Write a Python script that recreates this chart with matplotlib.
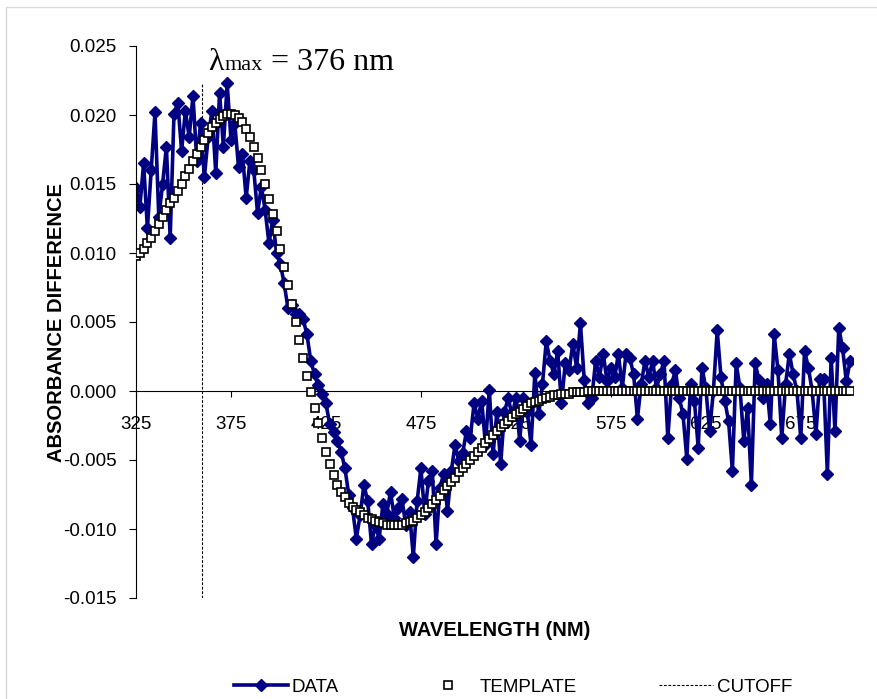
import numpy as np
import matplotlib
matplotlib.use("Agg")
import matplotlib.pyplot as plt
from matplotlib.lines import Line2D
from matplotlib.patches import Rectangle

# Wavelength grid (nm), 2 nm steps
wavelength = np.arange(325, 702, 2)

# Measured absorbance difference
absorbance_data = [
    0.0147, 0.0133, 0.0165, 0.0118, 0.0160, 0.0202, 0.0126, 0.0150, 0.0177, 0.0111,
    0.0201, 0.0209, 0.0174, 0.0203, 0.0184, 0.0214, 0.0167, 0.0194, 0.0155, 0.0184,
    0.0203, 0.0158, 0.0216, 0.0177, 0.0223, 0.0182, 0.0194, 0.0162, 0.0172, 0.0140,
    0.0167, 0.0160, 0.0129, 0.0148, 0.0131, 0.0107, 0.0124, 0.0100, 0.0092, 0.0078,
    0.0060, 0.0062, 0.0056, 0.0056, 0.0052, 0.0041, 0.0022, 0.0012, 0.0004, -0.0002,
    -0.0009, -0.0024, -0.0030, -0.0036, -0.0044, -0.0056, -0.0075, -0.0085, -0.0107, -0.0090,
    -0.0068, -0.0080, -0.0111, -0.0097, -0.0107, -0.0082, -0.0089, -0.0073, -0.0092, -0.0085,
    -0.0078, -0.0097, -0.0088, -0.0120, -0.0080, -0.0056, -0.0089, -0.0065, -0.0058, -0.0111,
    -0.0070, -0.0060, -0.0087, -0.0058, -0.0039, -0.0051, -0.0045, -0.0029, -0.0034, -0.0009,
    -0.0020, -0.0007, -0.0039, 0.0001, -0.0046, -0.0015, -0.0053, -0.0015, -0.0005, -0.0018,
    -0.0005, -0.0036, -0.0005, -0.0015, -0.0039, 0.0013, -0.0017, 0.0005, 0.0036, 0.0022,
    0.0012, 0.0029, -0.0009, 0.0020, 0.0015, 0.0034, 0.0017, 0.0049, 0.0008, -0.0009,
    -0.0005, 0.0022, 0.0010, 0.0027, 0.0007, 0.0017, 0.0010, 0.0027, 0.0002, 0.0027,
    0.0024, 0.0012, -0.0020, 0.0005, 0.0022, 0.0010, 0.0022, 0.0002, 0.0012, 0.0022,
    -0.0034, 0.0005, 0.0015, -0.0005, -0.0017, -0.0049, 0.0005, -0.0007, -0.0041, 0.0017,
    0.0002, -0.0029, 0.0000, 0.0044, 0.0010, -0.0007, -0.0022, -0.0058, 0.0020, 0.0002,
    -0.0036, -0.0012, -0.0068, 0.0020, 0.0008, -0.0005, 0.0005, -0.0024, 0.0041, 0.0015,
    -0.0034, 0.0005, 0.0027, 0.0012, 0.0000, -0.0034, 0.0029, 0.0017, 0.0000, -0.0031,
    0.0009, 0.0009, -0.0060, 0.0024, -0.0029, 0.0046, 0.0031, 0.0007, 0.0022,
]

# Fitted template spectrum
template = [
    0.0098, 0.0100, 0.0103, 0.0107, 0.0111, 0.0116, 0.0121, 0.0126, 0.0131, 0.0136,
    0.0140, 0.0145, 0.0150, 0.0156, 0.0161, 0.0167, 0.0172, 0.0177, 0.0182, 0.0187,
    0.0191, 0.0194, 0.0197, 0.0199, 0.0201, 0.0201, 0.0200, 0.0198, 0.0195, 0.0190,
    0.0184, 0.0177, 0.0169, 0.0160, 0.0150, 0.0139, 0.0128, 0.0116, 0.0103, 0.0090,
    0.0077, 0.0063, 0.0050, 0.0037, 0.0024, 0.0011, -0.0001, -0.0012, -0.0023, -0.0034,
    -0.0044, -0.0053, -0.0061, -0.0068, -0.0073, -0.0077, -0.0081, -0.0084, -0.0086, -0.0088,
    -0.0090, -0.0092, -0.0093, -0.0094, -0.0095, -0.0096, -0.0097, -0.0097, -0.0097, -0.0097,
    -0.0097, -0.0096, -0.0095, -0.0094, -0.0092, -0.0090, -0.0088, -0.0085, -0.0082, -0.0079,
    -0.0076, -0.0072, -0.0069, -0.0066, -0.0063, -0.0059, -0.0056, -0.0053, -0.0050, -0.0047,
    -0.0044, -0.0041, -0.0038, -0.0035, -0.0032, -0.0029, -0.0026, -0.0024, -0.0022, -0.0019,
    -0.0017, -0.0015, -0.0013, -0.0011, -0.0009, -0.0008, -0.0007, -0.0006, -0.0005, -0.0004,
    -0.0003, -0.0003, -0.0002, -0.0002, -0.0002, -0.0001, -0.0001, -0.0001, -0.0001, 0.0,
    0.0, 0.0, 0.0, 0.0, 0.0, 0.0, 0.0, 0.0, 0.0, 0.0,
    0.0, 0.0, 0.0, 0.0, 0.0, 0.0, 0.0, 0.0, 0.0, 0.0,
    0.0, 0.0, 0.0, 0.0, 0.0, 0.0, 0.0, 0.0, 0.0, 0.0,
    0.0, 0.0, 0.0, 0.0, 0.0, 0.0, 0.0, 0.0, 0.0, 0.0,
    0.0, 0.0, 0.0, 0.0, 0.0, 0.0, 0.0, 0.0, 0.0, 0.0,
    0.0, 0.0, 0.0, 0.0, 0.0, 0.0, 0.0, 0.0, 0.0, 0.0,
    0.0, 0.0, 0.0, 0.0, 0.0, 0.0, 0.0, 0.0, 0.0,
]

cutoff_nm = 360
lambda_max_nm = 376
x_ticks = [325, 375, 425, 475, 525, 575, 625, 675]
y_ticks = [-0.015, -0.010, -0.005, 0.000, 0.005, 0.010, 0.015, 0.020, 0.025]

plt.rcParams['font.family'] = ['Liberation Sans', 'DejaVu Sans']

W, H = 877, 699
fig = plt.figure(figsize=(W / 100, H / 100), dpi=100)
fig.patch.set_facecolor('white')

# light chart-area border
fig.add_artist(Rectangle((6 / W, -0.05), 1.2, 1 - 7 / H + 0.05,
                         transform=fig.transFigure, fill=False,
                         edgecolor='#d9d9d9', lw=1.0))

ax = fig.add_axes([136 / W, 46 / H + 55 / H, 717 / W, 552 / H])

navy = '#000080'
data_kw = dict(color=navy, lw=2.6, marker='D', ms=6.5, mec=navy, mfc=navy)
tmpl_kw = dict(ls='none', marker='s', ms=6.0, mfc='white', mec='black', mew=1.2)
cut_kw = dict(color='black', lw=0.8, ls=(0, (2.5, 1.5)))

ax.plot(wavelength, absorbance_data, zorder=2, **data_kw)
ax.plot(wavelength, template, zorder=3, **tmpl_kw)
ax.plot([cutoff_nm, cutoff_nm], [-0.015, 0.0223], zorder=1, **cut_kw)

ax.set_xlim(325, 702.5)
ax.set_ylim(-0.015, 0.025)

for s in ('top', 'right'):
    ax.spines[s].set_visible(False)
ax.spines['bottom'].set_position(('data', 0))
ax.spines['left'].set_linewidth(0.8)
ax.spines['bottom'].set_linewidth(0.8)

ax.set_xticks(x_ticks)
ax.set_xticklabels([str(v) for v in x_ticks])
ax.set_yticks(y_ticks)
ax.set_yticklabels([f"{v:.3f}" for v in y_ticks])
ax.tick_params(axis='y', direction='out', length=5, width=0.8, pad=9, labelsize=13.5)
ax.tick_params(axis='x', direction='out', length=4, width=0.8, pad=14, labelsize=13.5)

ax.set_xlabel('WAVELENGTH (NM)', fontsize=14.5, fontweight='bold')
ax.xaxis.label.set_va('center')
ax.xaxis.set_label_coords(0.5, (598 - 631) / 552)
ax.set_ylabel('ABSORBANCE DIFFERENCE', fontsize=14.5, fontweight='bold')
ax.yaxis.label.set_va('center')
ax.yaxis.set_label_coords((57 - 136) / 717, 0.5)

# λmax annotation
renderer = fig.canvas.get_renderer()
base_y = 1 - 70 / H
x0 = 208 / W
serif = ['Liberation Serif', 'DejaVu Serif']
t1 = fig.text(x0, base_y, 'λ', fontsize=23, family=serif, va='baseline', ha='left')
bb = t1.get_window_extent(renderer)
t2 = fig.text(bb.x1 / W + 1 / W, base_y, 'max', fontsize=16, family=serif, va='baseline', ha='left')
bb = t2.get_window_extent(renderer)
fig.text(bb.x1 / W, base_y, f' = {lambda_max_nm} nm', fontsize=23, family=serif,
         va='baseline', ha='left')

handles = [Line2D([], [], **data_kw), Line2D([], [], **tmpl_kw), Line2D([], [], **cut_kw)]
fig.legend(handles, ['DATA', 'TEMPLATE', 'CUTOFF'], loc='center',
           bbox_to_anchor=(513 / W, 12 / H), ncol=3, frameon=False, fontsize=13.5,
           handlelength=2.88, handletextpad=0.21, columnspacing=4.4, numpoints=1,
           borderpad=0.0)

fig.savefig('out.png', dpi=100, facecolor='white')
